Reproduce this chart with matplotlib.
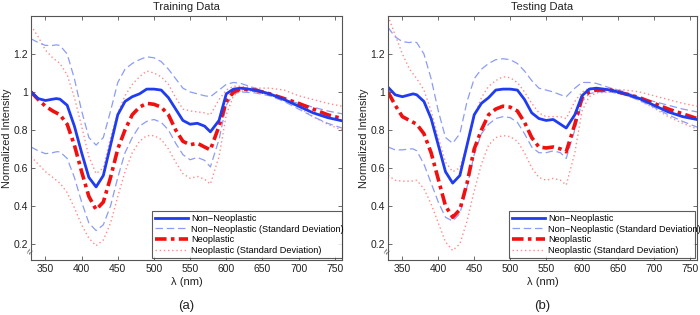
import matplotlib
matplotlib.use("Agg")
import matplotlib.pyplot as plt
from matplotlib.lines import Line2D

plt.rcParams['font.family'] = ['Liberation Sans', 'DejaVu Sans']

# ---------------- data ----------------
wl = [330, 340, 350, 360, 365, 370, 380, 390, 400, 410, 420, 430, 440, 450,
      460, 470, 480, 490, 500, 510, 520, 530, 540, 550, 560, 570, 578, 590,
      600, 610, 620, 640, 660, 680, 700, 720, 740, 760]

# Training data
train_non = [1.00, 0.965, 0.955, 0.962, 0.965, 0.962, 0.93, 0.82, 0.68, 0.55, 0.50, 0.56, 0.72, 0.88,
             0.95, 0.975, 0.99, 1.015, 1.015, 1.01, 0.97, 0.91, 0.85, 0.83, 0.835, 0.82, 0.79, 0.85,
             0.99, 1.015, 1.02, 1.01, 0.99, 0.96, 0.925, 0.89, 0.865, 0.848]
train_non_up = [1.28, 1.26, 1.245, 1.245, 1.248, 1.245, 1.20, 1.07, 0.90, 0.76, 0.72, 0.76, 0.90, 1.05,
                1.12, 1.15, 1.17, 1.185, 1.18, 1.16, 1.12, 1.07, 1.02, 1.00, 0.99, 0.98, 0.975, 1.01,
                1.04, 1.05, 1.045, 1.02, 0.99, 0.96, 0.94, 0.92, 0.90, 0.885]
train_non_lo = [0.71, 0.69, 0.675, 0.68, 0.685, 0.685, 0.65, 0.55, 0.42, 0.31, 0.27, 0.30, 0.40, 0.55,
                0.68, 0.76, 0.82, 0.845, 0.855, 0.84, 0.80, 0.73, 0.67, 0.643, 0.655, 0.64, 0.605, 0.75,
                0.93, 0.99, 1.00, 0.995, 0.98, 0.95, 0.91, 0.87, 0.835, 0.81]
train_neo = [1.00, 0.96, 0.925, 0.90, 0.89, 0.88, 0.83, 0.72, 0.58, 0.45, 0.38, 0.42, 0.55, 0.70,
             0.80, 0.88, 0.92, 0.94, 0.935, 0.92, 0.88, 0.80, 0.74, 0.722, 0.73, 0.71, 0.695, 0.82,
             0.95, 1.00, 1.015, 1.01, 0.99, 0.965, 0.94, 0.91, 0.88, 0.86]
train_neo_up = [1.35, 1.29, 1.22, 1.18, 1.165, 1.15, 1.09, 0.97, 0.82, 0.66, 0.57, 0.60, 0.76, 0.89,
                0.98, 1.04, 1.08, 1.11, 1.10, 1.08, 1.04, 0.97, 0.91, 0.90, 0.895, 0.89, 0.88, 0.96,
                1.01, 1.03, 1.03, 1.02, 1.02, 1.01, 0.98, 0.96, 0.94, 0.925]
train_neo_lo = [0.66, 0.62, 0.58, 0.55, 0.535, 0.52, 0.47, 0.39, 0.30, 0.23, 0.19, 0.22, 0.31, 0.45,
                0.58, 0.68, 0.74, 0.77, 0.77, 0.75, 0.70, 0.63, 0.57, 0.545, 0.555, 0.54, 0.515, 0.66,
                0.88, 0.98, 1.005, 1.005, 0.99, 0.96, 0.92, 0.87, 0.83, 0.80]

# Testing data
test_non = [1.025, 0.985, 0.975, 0.985, 0.99, 0.985, 0.95, 0.86, 0.72, 0.58, 0.52, 0.56, 0.72, 0.88,
            0.94, 0.97, 1.01, 1.015, 1.015, 1.01, 0.96, 0.89, 0.86, 0.85, 0.855, 0.83, 0.81, 0.88,
            0.98, 1.015, 1.02, 1.01, 0.99, 0.965, 0.93, 0.895, 0.87, 0.855]
test_non_up = [1.34, 1.29, 1.265, 1.26, 1.265, 1.26, 1.20, 1.07, 0.90, 0.76, 0.73, 0.78, 0.95, 1.07,
               1.12, 1.15, 1.17, 1.175, 1.17, 1.15, 1.11, 1.06, 1.02, 1.01, 1.00, 0.985, 0.975, 1.02,
               1.05, 1.05, 1.045, 1.02, 1.00, 0.97, 0.95, 0.93, 0.91, 0.895]
test_non_lo = [0.71, 0.695, 0.695, 0.70, 0.70, 0.69, 0.62, 0.52, 0.42, 0.34, 0.32, 0.36, 0.50, 0.67,
               0.78, 0.83, 0.86, 0.87, 0.865, 0.84, 0.78, 0.71, 0.68, 0.68, 0.69, 0.68, 0.65, 0.80,
               0.95, 0.99, 1.00, 1.00, 0.985, 0.955, 0.92, 0.88, 0.845, 0.815]
test_neo = [1.00, 0.93, 0.87, 0.85, 0.84, 0.83, 0.78, 0.68, 0.54, 0.40, 0.34, 0.38, 0.52, 0.70,
            0.80, 0.88, 0.91, 0.925, 0.92, 0.90, 0.84, 0.76, 0.71, 0.705, 0.71, 0.70, 0.685, 0.83,
            0.97, 1.00, 1.01, 1.01, 0.99, 0.97, 0.94, 0.91, 0.885, 0.86]
test_neo_up = [1.40, 1.30, 1.20, 1.12, 1.095, 1.07, 1.01, 0.90, 0.76, 0.63, 0.58, 0.60, 0.72, 0.87,
               0.97, 1.03, 1.06, 1.08, 1.075, 1.05, 1.00, 0.94, 0.89, 0.87, 0.87, 0.87, 0.86, 0.95,
               1.00, 1.02, 1.02, 1.015, 1.01, 1.00, 0.98, 0.96, 0.94, 0.925]
test_neo_lo = [0.56, 0.535, 0.53, 0.53, 0.532, 0.535, 0.49, 0.41, 0.31, 0.21, 0.165, 0.20, 0.32, 0.48,
               0.62, 0.72, 0.76, 0.77, 0.765, 0.74, 0.68, 0.60, 0.55, 0.535, 0.545, 0.535, 0.51, 0.68,
               0.90, 0.975, 0.995, 1.00, 0.985, 0.955, 0.915, 0.87, 0.835, 0.805]

titles = ["Training Data", "Testing Data"]
panel_labels = ["(a)", "(b)"]
legend_labels = ["Non\u2212Neoplastic", "Non\u2212Neoplastic (Standard Deviation)",
                 "Neoplastic", "Neoplastic (Standard Deviation)"]
xticks = [350, 400, 450, 500, 550, 600, 650, 700, 750]
yticks = [0.2, 0.4, 0.6, 0.8, 1.0, 1.2]
ytick_labels = ["0.2", "0.4", "0.6", "0.8", "1", "1.2"]

panels = [
    (train_non, train_non_up, train_non_lo, train_neo, train_neo_up, train_neo_lo),
    (test_non, test_non_up, test_non_lo, test_neo, test_neo_up, test_neo_lo),
]

# ---------------- styles ----------------
C_BLUE = "#1f3cf0"
C_LBLUE = "#8c9cf5"
C_RED = "#f01010"
C_LRED = "#ff8a8a"
C_AX = "#555555"
C_TXT = "#222222"

fig = plt.figure(figsize=(7.0, 3.15), dpi=100)
axes_pos = [[31/700, 55/315, 311/700, 244/315],
            [388/700, 55/315, 309/700, 244/315]]
legend_pos = [(152, 211, 190, 47), (509, 211, 186, 47)]

for i, (pos, data) in enumerate(zip(axes_pos, panels)):
    non, non_up, non_lo, neo, neo_up, neo_lo = data
    ax = fig.add_axes(pos)
    ax.plot(wl, neo_up, color=C_LRED, lw=1.0, ls=(0, (1, 2)))
    ax.plot(wl, neo_lo, color=C_LRED, lw=1.0, ls=(0, (1, 2)))
    ax.plot(wl, non_up, color=C_LBLUE, lw=0.9, ls=(0, (6, 3)))
    ax.plot(wl, non_lo, color=C_LBLUE, lw=0.9, ls=(0, (6, 3)))
    ax.plot(wl, neo, color=C_RED, lw=2.6, ls=(0, (3.2, 1.2, 1, 1.2)))
    ax.plot(wl, non, color=C_BLUE, lw=2.0)

    ax.set_xlim(330, 760)
    ax.set_ylim(0.115, 1.40)
    ax.set_xticks(xticks)
    ax.set_yticks(yticks)
    ax.set_yticklabels(ytick_labels)
    ax.tick_params(direction='in', length=3, width=0.6, color=C_AX,
                   labelsize=7.5, labelcolor=C_TXT, top=True, right=True, pad=3)
    ax.tick_params(axis='y', pad=2)
    for s in ax.spines.values():
        s.set_color(C_AX)
        s.set_linewidth(0.8)
    ax.set_title(titles[i], fontsize=8, pad=4, color=C_TXT)
    ax.set_xlabel("\u03bb (nm)", fontsize=8, labelpad=2, color=C_TXT)
    ax.set_ylabel("Normalized Intensity", fontsize=7.8, labelpad=1.5, color=C_TXT)
    ax.text(0.5, -0.19, panel_labels[i], transform=ax.transAxes, ha='center',
            va='center', fontsize=9.5, color=C_TXT)

    # axis break mark
    ax.text(0.0, 0.035, "\u2248", transform=ax.transAxes, ha='center', va='center',
            fontsize=7.5, color=C_AX, rotation=60)

    handles = [
        Line2D([], [], color=C_BLUE, lw=2.0),
        Line2D([], [], color=C_LBLUE, lw=0.9, ls=(0, (6, 3))),
        Line2D([], [], color=C_RED, lw=2.6, ls=(0, (3.2, 1.2, 1, 1.2))),
        Line2D([], [], color=C_LRED, lw=1.0, ls=(0, (1, 2))),
    ]
    lx, ly, lw_, lh = legend_pos[i]
    bbox = (lx / 700, (315 - ly - lh) / 315, lw_ / 700, lh / 315)
    leg = fig.legend(handles, legend_labels, loc='lower left',
                     bbox_to_anchor=bbox, mode='expand', fontsize=6.6,
                     frameon=True, fancybox=False, handlelength=3.6,
                     handletextpad=0.4, borderpad=0.3, labelspacing=0.2,
                     borderaxespad=0.0)
    leg.get_frame().set_edgecolor("#333333")
    leg.get_frame().set_linewidth(0.8)

fig.savefig("out.png", dpi=100)
